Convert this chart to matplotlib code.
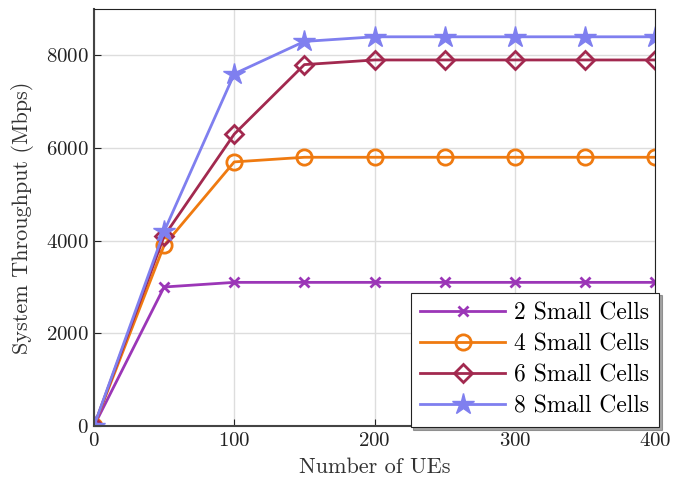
import numpy as np
import matplotlib.pyplot as plt

plt.rcParams['font.family'] = 'serif'
plt.rcParams['font.serif'] = ['cmr10', 'DejaVu Serif']
plt.rcParams['axes.formatter.use_mathtext'] = True
plt.rcParams['mathtext.fontset'] = 'cm'

ues = [0, 50, 100, 150, 200, 250, 300, 350, 400]
cells2 = [0, 3000, 3100, 3100, 3100, 3100, 3100, 3100, 3100]
cells4 = [0, 3900, 5700, 5800, 5800, 5800, 5800, 5800, 5800]
cells6 = [0, 4100, 6300, 7800, 7900, 7900, 7900, 7900, 7900]
cells8 = [0, 4200, 7600, 8300, 8400, 8400, 8400, 8400, 8400]
labels = ["2 Small Cells", "4 Small Cells", "6 Small Cells", "8 Small Cells"]

fig = plt.figure(figsize=(6.76, 4.9), dpi=100)
ax = fig.add_axes([94/676, 1 - 426/490, (655-94)/676, (426-9)/490])

ax.plot(ues, cells2, color='#9B36B7', lw=2, marker='x', ms=7, mew=2, label=labels[0])
ax.plot(ues, cells4, color='#EF7A10', lw=2, marker='o', ms=11, mew=2, mfc='none', label=labels[1])
ax.plot(ues, cells6, color='#A2294F', lw=2, marker='D', ms=9, mew=2, mfc='none', label=labels[2])
ax.plot(ues, cells8, color='#7F7FEF', lw=2, marker='*', ms=16, label=labels[3])

ax.set_xlim(0, 400)
ax.set_ylim(0, 9000)
ax.set_xticks([0, 100, 200, 300, 400])
ax.set_yticks([0, 2000, 4000, 6000, 8000])
ax.grid(True, color='#dddddd', lw=1)
ax.set_axisbelow(True)
for s in ['top', 'right']:
    ax.spines[s].set_linewidth(0.8)
    ax.spines[s].set_color('#222222')
for s in ['left', 'bottom']:
    ax.spines[s].set_linewidth(1.5)
    ax.spines[s].set_color('#444444')
ax.tick_params(labelsize=15, colors='#222222', direction='in', length=5, pad=4)
ax.set_xlabel("Number of UEs", fontsize=16, color='#333333', labelpad=6)
ax.set_ylabel("System Throughput (Mbps)", fontsize=16, color='#333333', labelpad=8)

leg = ax.legend(loc='lower right', bbox_to_anchor=(1.007, -0.002), fontsize=17,
                fancybox=False, shadow=True, edgecolor='#222222', framealpha=1,
                borderaxespad=0, borderpad=0.4, handlelength=3.6,
                labelspacing=0.38, handletextpad=0.4)
leg.get_frame().set_linewidth(0.8)

fig.savefig("out.png", dpi=100)
